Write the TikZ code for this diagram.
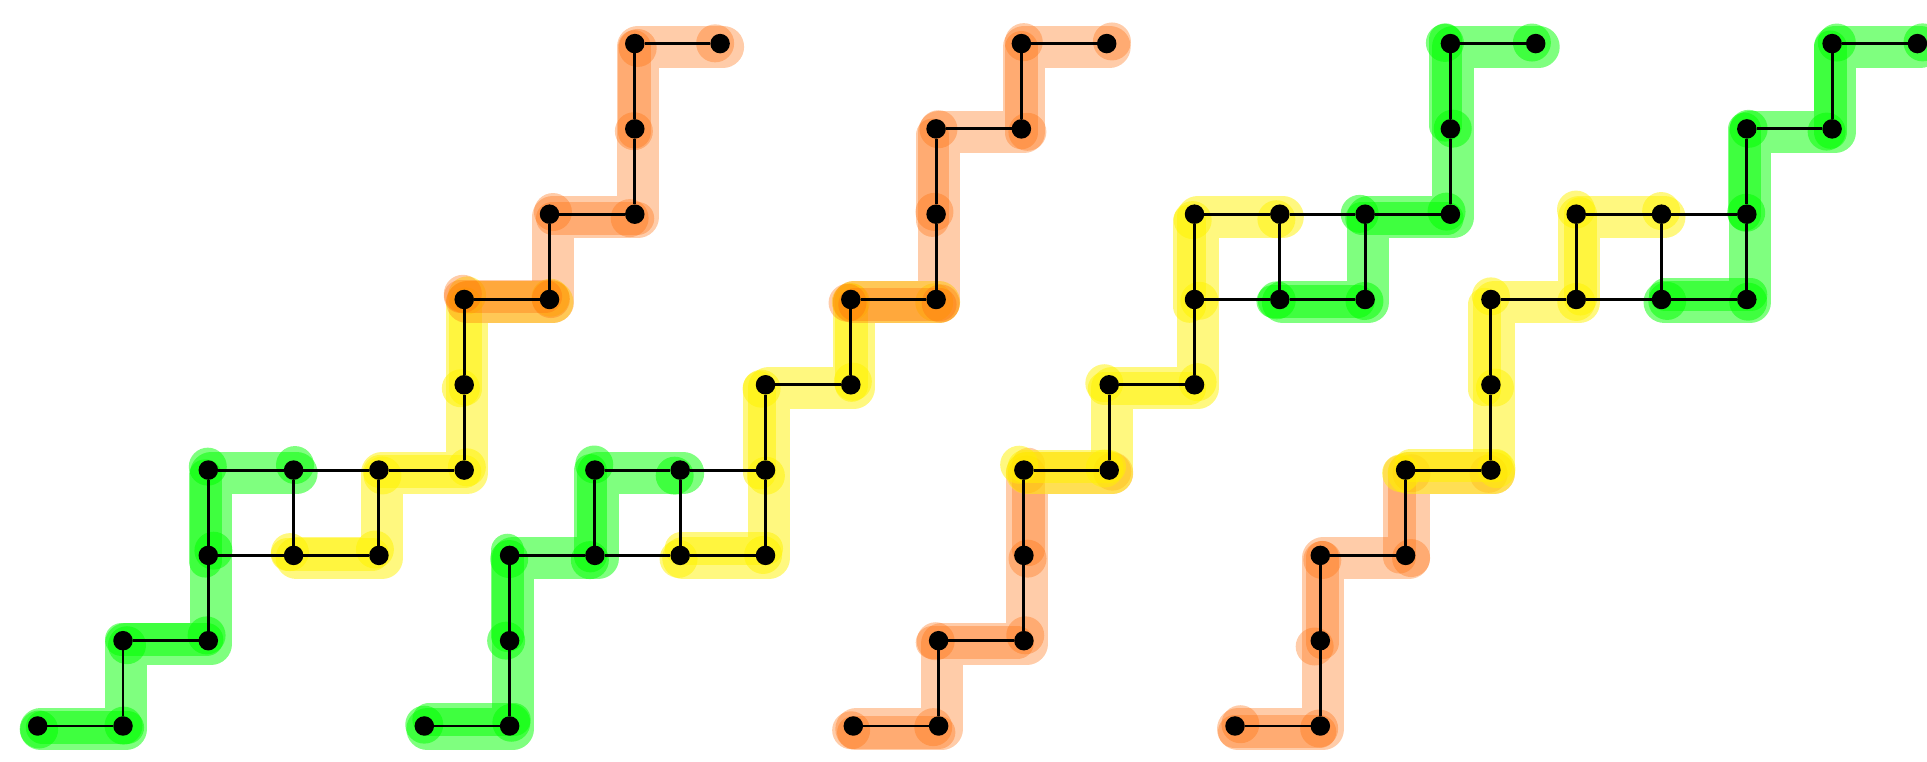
\documentclass[tikz,border=0pt]{standalone}
\definecolor{hlorange}{RGB}{255,110,10}
\pgfdeclarelayer{bg}
\pgfsetlayers{bg,main}
\tikzset{
  dot/.style={circle, fill=black, minimum size=19.5pt, inner sep=0pt, outer sep=0pt},
  edge/.style={draw=black, line width=2.9pt},
  hlbase/.style={line cap=round, line join=round},
}
\newcommand\hilite[4]{% prefix, start index, colour, opacity
  \pgfmathtruncatemacro\hle{#2+6}%
  \pgfmathtruncatemacro\hlf{#2+1}%
  \pgfmathtruncatemacro\hlg{#2+5}%
  \pgfmathtruncatemacro\hlh{#2+2}%
  \begin{scope}[transform canvas={shift={(3pt,-3pt)}}]
    \draw[hlbase, draw=#3, draw opacity=#4, line width=42pt] (#1#2.center) \foreach \k in {\hlf,...,\hle}{ -- (#1\k.center)};
  \end{scope}
  \foreach \k in {#2,...,\hle}{%
    \pgfmathsetmacro\rx{6*rand}\pgfmathsetmacro\ry{6*rand}%
    \fill[#3, fill opacity=#4] ([shift={(\rx pt,\ry pt)}]#1\k.center) circle (19pt);
  }
  \foreach \k in {#2,\hlh,...,\hlg}{%
    \pgfmathtruncatemacro\kn{\k+1}%
    \pgfmathsetmacro\rx{7*rand}\pgfmathsetmacro\ry{7*rand}%
    \begin{scope}[transform canvas={shift={(\rx pt,\ry pt)}}]
      \draw[hlbase, draw=#3, draw opacity=#4, line width=33pt] (#1\k.center) -- (#1\kn.center);
    \end{scope}
  }
}
\begin{document}
\begin{tikzpicture}[x=85.3pt,y=85.3pt]
\pgfmathsetseed{42}
\useasboundingbox (0pt,0pt) rectangle (1927pt,762pt);
% graph 1
\begin{scope}[shift={(37.7pt,36pt)}]
\foreach \n/\i/\j in {0/0/0,1/1/0,2/1/1,3/2/1,4/2/2,5/2/3,6/3/3,7/3/2,8/4/2,9/4/3,10/5/3,11/5/4,12/5/5,13/6/5,14/6/6,15/7/6,16/7/7,17/7/8,18/8/8}
  \node[dot] (a\n) at (\i,\j) {};
\end{scope}
\foreach \s/\t in {0/1,1/2,2/3,3/4,4/5,5/6,6/9,9/10,4/7,7/8,6/7,8/9,10/11,11/12,12/13,13/14,14/15,15/16,16/17,17/18}
  \draw[edge] (a\s) -- (a\t);
% graph 2
\begin{scope}[shift={(424.3pt,36pt)}]
\foreach \n/\i/\j in {0/0/0,1/1/0,2/1/1,3/1/2,4/2/2,5/2/3,6/3/3,7/3/2,8/4/2,9/4/3,10/4/4,11/5/4,12/5/5,13/6/5,14/6/6,15/6/7,16/7/7,17/7/8,18/8/8}
  \node[dot] (b\n) at (\i,\j) {};
\end{scope}
\foreach \s/\t in {0/1,1/2,2/3,3/4,4/5,5/6,4/7,7/8,6/7,6/9,8/9,9/10,10/11,11/12,12/13,13/14,14/15,15/16,16/17,17/18}
  \draw[edge] (b\s) -- (b\t);
% graph 3
\begin{scope}[shift={(853.3pt,36pt)}]
\foreach \n/\i/\j in {0/0/0,1/1/0,2/1/1,3/2/1,4/2/2,5/2/3,6/3/3,7/3/4,8/4/4,9/4/5,10/4/6,11/5/6,12/5/5,13/6/5,14/6/6,15/7/6,16/7/7,17/7/8,18/8/8}
  \node[dot] (c\n) at (\i,\j) {};
\end{scope}
\foreach \s/\t in {0/1,1/2,2/3,3/4,4/5,5/6,6/7,7/8,8/9,9/10,10/11,11/14,14/15,9/12,12/13,11/12,13/14,15/16,16/17,17/18}
  \draw[edge] (c\s) -- (c\t);
% graph 4
\begin{scope}[shift={(1235pt,36pt)}]
\foreach \n/\i/\j in {0/0/0,1/1/0,2/1/1,3/1/2,4/2/2,5/2/3,6/3/3,7/3/4,8/3/5,9/4/5,10/4/6,11/5/6,12/5/5,13/6/5,14/6/6,15/6/7,16/7/7,17/7/8,18/8/8}
  \node[dot] (d\n) at (\i,\j) {};
\end{scope}
\foreach \s/\t in {0/1,1/2,2/3,3/4,4/5,5/6,6/7,7/8,8/9,9/10,10/11,11/14,9/12,12/13,11/12,13/14,14/15,15/16,16/17,17/18}
  \draw[edge] (d\s) -- (d\t);
% highlights
\begin{pgfonlayer}{bg}
\hilite{a}{0}{green}{0.5}
\hilite{a}{7}{yellow}{0.5}
\hilite{a}{12}{hlorange}{0.35}
\hilite{b}{0}{green}{0.5}
\hilite{b}{7}{yellow}{0.5}
\hilite{b}{12}{hlorange}{0.35}
\hilite{c}{0}{hlorange}{0.35}
\hilite{c}{5}{yellow}{0.5}
\hilite{c}{12}{green}{0.5}
\hilite{d}{0}{hlorange}{0.35}
\hilite{d}{5}{yellow}{0.5}
\hilite{d}{12}{green}{0.5}
\end{pgfonlayer}
\end{tikzpicture}
\end{document}
